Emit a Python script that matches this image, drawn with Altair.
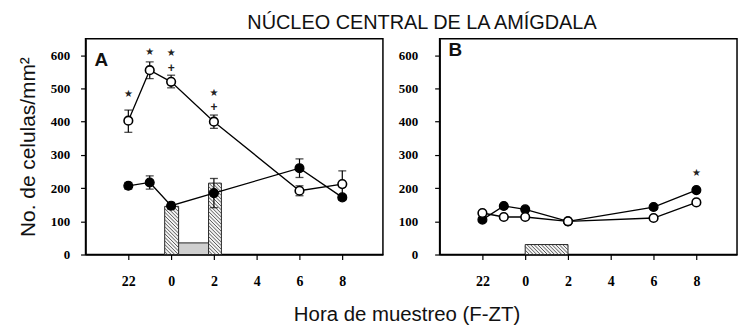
import altair as alt
import pandas as pd

# ---- data ----
hours = [22, 23, 24, 26, 30, 32]
x_ticks = [22, 24, 26, 28, 30, 32]
x_tick_labels = ["22", "0", "2", "4", "6", "8"]
y_ticks = [0, 100, 200, 300, 400, 500, 600]

a_open = [403, 555, 520, 400, 192, 212]
a_open_lo = [368, 530, 502, 380, 177, 172]
a_open_hi = [435, 580, 540, 420, 207, 252]
a_fill = [207, 217, 147, 185, 260, 172]
a_fill_lo = [197, 197, 137, 141, 232, 164]
a_fill_hi = [217, 237, 157, 229, 288, 180]

b_open = [125, 113, 113, 100, 110, 157]
b_open_lo = [119, 107, 107, 94, 104, 150]
b_open_hi = [131, 119, 119, 106, 116, 164]
b_fill = [105, 146, 136, 100, 143, 194]
b_fill_lo = [99, 140, 130, 94, 137, 187]
b_fill_hi = [111, 152, 142, 106, 149, 201]

a_bar_x = [23.7, 25.75]
a_bar_x2 = [24.35, 26.35]
a_bar_top = [145, 215]
a_stip_x = [23.85]
a_stip_x2 = [26.05]
a_stip_top = [35]
b_bar_x = [24.0]
b_bar_x2 = [26.0]
b_bar_top = [30]

a_ann_x = [22, 23, 24, 24, 26, 26]
a_ann_y = [484, 611, 606, 562, 486, 445]
a_ann_t = ["★", "★", "★", "+", "★", "+"]
b_ann_x = [32]
b_ann_y = [244]
b_ann_t = ["★"]

# ---- layout ----
W, H = 299, 217
XD = [20, 33.9]
YD = [0, 650]

label_expr = ""
for v, t in zip(x_ticks, x_tick_labels):
    label_expr += f"datum.value == {v} ? '{t}' : "
label_expr += "''"


def hatch(x0, x1, top, step=3.6):
    sx = W / (XD[1] - XD[0])
    sy = H / (YD[1] - YD[0])
    X0 = (x0 - XD[0]) * sx
    X1 = (x1 - XD[0]) * sx
    Y0 = (YD[1] - top) * sy
    Y1 = (YD[1] - 0) * sy
    segs = []
    c = Y0 - X1 + step / 2
    while c < Y1 - X0:
        ps = max(X0, Y0 - c)
        pe = min(X1, Y1 - c)
        if pe > ps:
            segs.append(dict(hx=ps / sx + XD[0], hy=YD[1] - (ps + c) / sy,
                             hx2=pe / sx + XD[0], hy2=YD[1] - (pe + c) / sy))
        c += step
    return segs


def panel(letter, lx, ly, ov, olo, ohi, fv, flo, fhi, bars, stips, ann, first):
    xs = alt.Scale(domain=XD, nice=False, zero=False)
    ys = alt.Scale(domain=YD, nice=False)
    xaxis = alt.Axis(values=x_ticks, labelExpr=label_expr, title=None,
                     labelFont="Liberation Serif", labelFontWeight="bold",
                     labelFontSize=14, labelPadding=15, tickSize=5,
                     labelColor="black", grid=False)
    if first:
        yaxis = alt.Axis(values=y_ticks, title="No. de celulas/mm²",
                         titleFont="Liberation Sans", titleFontSize=21,
                         titleFontWeight="normal", titleColor="#111",
                         titlePadding=12, labelFont="Liberation Serif",
                         labelFontWeight="bold", labelFontSize=13,
                         labelPadding=11, tickSize=5, labelColor="black", grid=False)
    else:
        yaxis = alt.Axis(values=y_ticks, title=None, labelFont="Liberation Serif",
                         labelFontWeight="bold", labelFontSize=13,
                         labelPadding=17, tickSize=5, labelColor="black", grid=False)
    X = lambda f: alt.X(f, type="quantitative", scale=xs, axis=xaxis)
    Y = lambda f: alt.Y(f, type="quantitative", scale=ys, axis=yaxis)

    df = pd.DataFrame(dict(hour=hours, o=ov, olo=olo, ohi=ohi, f=fv, flo=flo, fhi=fhi))
    layers = []
    for (bx, bx2, btop, kind) in stips + bars:
        bdf = pd.DataFrame(dict(x=bx, x2=bx2, top=btop))
        bdf["bot"] = 0
        fillc = "#cfcfcf" if kind == "stip" else "#f4f4f4"
        layers.append(alt.Chart(bdf).mark_rect(fill=fillc, stroke="#222", strokeWidth=1).encode(
            x=X("x"), x2="x2", y=Y("bot"), y2="top"))
        if kind == "hatch":
            segs = []
            for a, b, t in zip(bx, bx2, btop):
                segs += hatch(a, b, t)
            hdf = pd.DataFrame(segs)
            layers.append(alt.Chart(hdf).mark_rule(color="#444", strokeWidth=0.9).encode(
                x=X("hx"), x2="hx2", y=Y("hy"), y2="hy2"))
    layers.append(alt.Chart(df).mark_line(color="black", strokeWidth=1.3).encode(x=X("hour"), y=Y("f")))
    layers.append(alt.Chart(df).mark_line(color="black", strokeWidth=1.3).encode(x=X("hour"), y=Y("o")))
    for lo, hi in (("flo", "fhi"), ("olo", "ohi")):
        layers.append(alt.Chart(df).mark_rule(color="black", strokeWidth=1.2).encode(
            x=X("hour"), y=Y(lo), y2=hi))
        layers.append(alt.Chart(df).mark_tick(orient="horizontal", size=8, thickness=1.3, color="black").encode(
            x=X("hour"), y=Y(lo)))
        layers.append(alt.Chart(df).mark_tick(orient="horizontal", size=8, thickness=1.3, color="black").encode(
            x=X("hour"), y=Y(hi)))
    layers.append(alt.Chart(df).mark_point(shape="circle", filled=True, fill="black", stroke="black",
                                           strokeWidth=1.2, size=80, opacity=1).encode(x=X("hour"), y=Y("f")))
    layers.append(alt.Chart(df).mark_point(shape="circle", filled=True, fill="white", stroke="black",
                                           strokeWidth=1.6, size=75, opacity=1).encode(x=X("hour"), y=Y("o")))
    adf = pd.DataFrame(dict(x=ann[0], y=ann[1], t=ann[2]))
    stars = adf[adf.t == "★"]
    plus = adf[adf.t == "+"]
    layers.append(alt.Chart(stars).mark_text(font="DejaVu Sans", fontSize=10, color="#222",
                                             baseline="middle", align="center").encode(
        x=X("x"), y=Y("y"), text="t:N"))
    if len(plus):
        layers.append(alt.Chart(plus).mark_text(font="Liberation Sans", fontSize=12, fontWeight="bold",
                                                color="#222", baseline="middle", align="center").encode(
            x=X("x"), y=Y("y"), text="t:N"))
    ldf = pd.DataFrame(dict(t=[letter]))
    layers.append(alt.Chart(ldf).mark_text(font="Liberation Sans", fontSize=19, fontWeight="bold",
                                           color="#111", align="left", baseline="alphabetic").encode(
        x=alt.value(lx), y=alt.value(ly), text="t:N"))
    return alt.layer(*layers).properties(width=W, height=H)


pa = panel("A", 9, 27, a_open, a_open_lo, a_open_hi, a_fill, a_fill_lo, a_fill_hi,
           [(a_bar_x, a_bar_x2, a_bar_top, "hatch")],
           [(a_stip_x, a_stip_x2, a_stip_top, "stip")],
           (a_ann_x, a_ann_y, a_ann_t), True)
pb = panel("B", 9, 17, b_open, b_open_lo, b_open_hi, b_fill, b_fill_lo, b_fill_hi,
           [(b_bar_x, b_bar_x2, b_bar_top, "hatch")], [],
           (b_ann_x, b_ann_y, b_ann_t), False)

inner = alt.hconcat(pa, pb, spacing=13).properties(
    title=alt.TitleParams("Hora de muestreo (F-ZT)", orient="bottom", anchor="middle",
                          font="Liberation Sans", fontSize=20.5, fontWeight="normal",
                          color="#111", offset=16, dx=30))

chart = alt.vconcat(inner).properties(
    title=alt.TitleParams("NÚCLEO CENTRAL DE LA AMÍGDALA", anchor="middle",
                          font="Liberation Sans", fontSize=20, fontWeight="normal",
                          color="#111", offset=5, dx=45),
    padding={"left": 16, "top": 12, "right": 3, "bottom": 3},
).configure_view(stroke="black", strokeWidth=1.5).configure_axis(
    domainColor="black", domainWidth=1.5, tickColor="black", tickWidth=1.2)

chart.save("out.html", embed_options={"renderer": "svg", "actions": False})
